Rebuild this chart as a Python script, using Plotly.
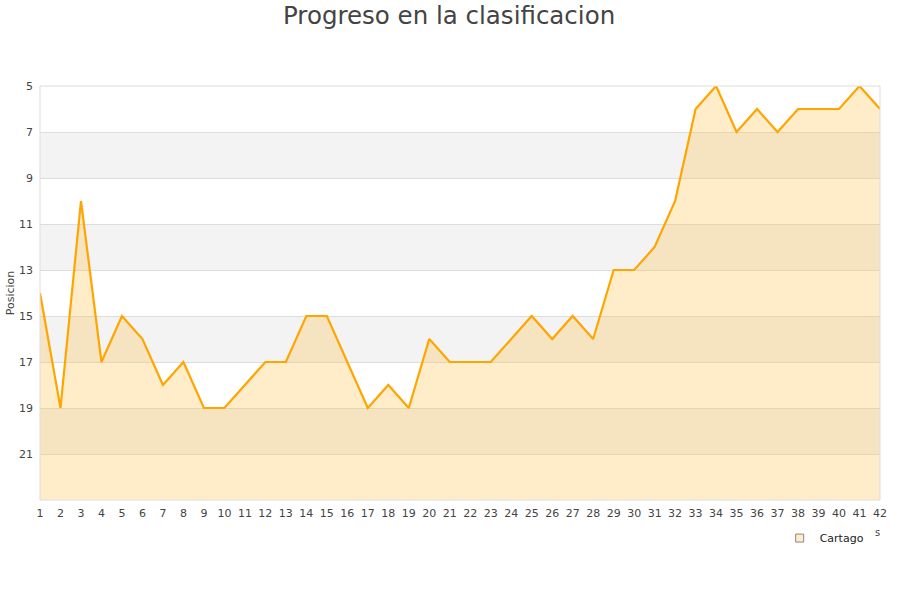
import plotly.graph_objects as go

jornadas = list(range(1, 43))
posicion = [14, 19, 10, 17, 15, 16, 18, 17, 19, 19, 18, 17, 17, 15, 15, 17, 19, 18, 19, 16,
            17, 17, 17, 16, 15, 16, 15, 16, 13, 13, 12, 10, 6, 5, 7, 6, 7, 6, 6, 6, 5, 6]
y_ticks = [5, 7, 9, 11, 13, 15, 17, 19, 21]
bands = [(7, 9), (11, 13), (15, 17), (19, 21)]
y_bottom, y_top = 23, 5

fig = go.Figure()
fig.add_trace(go.Scatter(x=jornadas, y=[y_bottom] * len(jornadas), mode="lines",
                         line=dict(width=0), showlegend=False, hoverinfo="skip"))
fig.add_trace(go.Scatter(x=jornadas, y=posicion, mode="lines", name="Cartago",
                         line=dict(color="#ffa500", width=2.2), showlegend=False,
                         fill="tonexty", fillcolor="rgba(255,190,60,0.27)"))
fig.add_trace(go.Scatter(x=[None], y=[None], mode="markers", name="Cartago",
                         marker=dict(symbol="square", size=8, color="#ffecc8",
                                     line=dict(color="#888888", width=1))))

for a, b in bands:
    fig.add_shape(type="rect", xref="paper", x0=0, x1=1, yref="y", y0=a, y1=b,
                  fillcolor="#f3f3f3", line=dict(width=0), layer="below")

# clipped fragment of the x-axis title visible in the reference
fig.add_annotation(text="s", xref="paper", yref="paper", x=1.002, y=-0.096,
                   showarrow=False, font=dict(size=10, color="#444"))

fig.update_layout(
    width=900, height=600,
    paper_bgcolor="white", plot_bgcolor="white",
    margin=dict(l=40, r=20, t=86, b=100, autoexpand=False),
    title=dict(text="Progreso en la clasificacion", x=0.499, xanchor="center",
               yref="container", y=0.975, yanchor="middle",
               font=dict(family="DejaVu Sans", size=24.5, color="#444")),
    font=dict(family="DejaVu Sans", size=11, color="#444"),
    showlegend=True,
    legend=dict(x=0.9865, xanchor="right", y=-0.092, yanchor="middle", orientation="h",
                font=dict(size=11, color="#222"), bgcolor="rgba(0,0,0,0)"),
    xaxis=dict(range=[1, 42], tickmode="array", tickvals=jornadas, showgrid=False,
               automargin=False, zeroline=False, showline=False, ticks="",
               ticklabelstandoff=5, tickfont=dict(size=11, color="#444")),
    yaxis=dict(range=[y_bottom, y_top], tickmode="array", tickvals=y_ticks,
               automargin=False, showgrid=True, gridcolor="#dddddd", gridwidth=1, zeroline=False,
               showline=False, ticks="", ticklabelstandoff=6, tickfont=dict(size=11, color="#444"),
               title=dict(text="Posicion", font=dict(size=11, color="#444"), standoff=2)),
)
# plot border
fig.add_shape(type="rect", xref="paper", yref="paper", x0=0, x1=1, y0=0, y1=1,
              line=dict(color="#dddddd", width=1), fillcolor="rgba(0,0,0,0)", layer="above")

fig.write_html("out.html", config={"displayModeBar": False},
               post_script="document.body.style.margin='0';")
